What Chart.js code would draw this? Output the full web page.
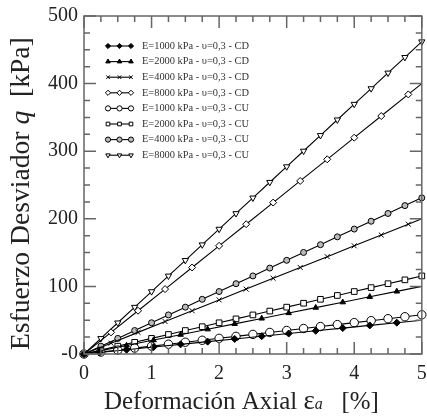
<!DOCTYPE html>
<html>
<head>
	<script src="https://cdn.jsdelivr.net/npm/chart.js@4.4.0/dist/chart.umd.min.js"></script>
	<style>
		body{margin:0;background:#fff;}
		#wrap{width:427px;height:416px;}
	</style>
</head>
<body>
	<div id="wrap"><canvas id="qChart" width="427" height="416"></canvas></div>
<script>
	// strain steps where markers were plotted
	var strainCU = [0,0.25,0.5,0.75,1,1.25,1.5,1.75,2,2.25,2.5,2.75,3,3.25,3.5,3.75,4,4.25,4.5,4.75,5];
	var strainCDa = [0,0.23,0.63,1.03,1.43,1.83,2.23,2.63,3.03,3.43,3.83,4.23,4.63,5];
	var strainCDb = [0,0.4,0.8,1.2,1.6,2,2.4,2.8,3.2,3.6,4,4.4,4.8,5];

	// deviator stress q [kPa]
	var qCD1000 = [0,2.3,6.3,10.3,14.3,18.3,22.3,26.3,30.3,34.3,38.3,42.3,46.3,50];
	var qCD2000 = [0,4.6,12.6,20.6,28.6,36.6,44.6,52.6,60.6,68.6,76.6,84.6,92.6,100];
	var qCD4000 = [0,16,32,48,64,80,96,112,128,144,160,176,192,200];
	var qCD8000 = [0,32,64,96,128,160,192,224,256,288,320,352,384,400];
	var qCU1000 = [0,2.9,5.8,8.7,11.6,14.5,17.4,20.3,23.2,26.1,29,31.9,34.8,37.7,40.6,43.5,46.4,49.3,52.2,55.1,58];
	var qCU2000 = [0,5.8,11.6,17.3,23.1,28.9,34.7,40.4,46.2,52,57.8,63.5,69.3,75.1,80.9,86.6,92.4,98.2,104,109.7,115.5];
	var qCU4000 = [0,11.6,23.1,34.7,46.2,57.8,69.3,80.9,92.4,104,115.5,127.1,138.6,150.2,161.7,173.3,184.8,196.4,207.9,219.5,231];
	var qCU8000 = [0,23.1,46.2,69.3,92.4,115.5,138.6,161.7,184.8,207.9,231,254.1,277.2,300.3,323.4,346.5,369.6,392.7,415.8,438.9,462];

	var seriesNames = [
		"E=1000 kPa - υ=0,3 - CD","E=2000 kPa - υ=0,3 - CD","E=4000 kPa - υ=0,3 - CD","E=8000 kPa - υ=0,3 - CD",
		"E=1000 kPa - υ=0,3 - CU","E=2000 kPa - υ=0,3 - CU","E=4000 kPa - υ=0,3 - CU","E=8000 kPa - υ=0,3 - CU"
	];
	var yTicks = [0,100,200,300,400,500];
	var xTicks = [0,1,2,3,4,5];

	function pts(xs,ys){
		var out = [];
		for(var i=0;i<xs.length;i++){ out.push({x:xs[i],y:ys[i]}); }
		return out;
	}
	function makeSet(i,xs,ys,style,radius,fill,rot,cdEnd){
		return {
			label:seriesNames[i],
			data:pts(xs,ys),
			showLine:true,
			borderColor:"#000",
			borderWidth:1.1,
			pointStyle:style,
			pointRotation:rot,
			pointBackgroundColor:fill,
			pointBorderColor:"#000",
			pointBorderWidth:1,
			pointRadius:function(c){ return (cdEnd && c.dataIndex==xs.length-1) ? 0 : radius; },
			clip:false
		};
	}

	var serif = "'Liberation Serif','Times New Roman',serif";

	// title made of parts: [text, italic, relative size]
	function drawParts(ctx,parts,size,target){
		var total = 0;
		parts.forEach(function(p){
			ctx.font = (p[1]?"italic ":"") + (size*p[2]) + "px " + serif;
			total += ctx.measureText(p[0]).width;
		});
		var k = target/total, x = 0;
		parts.forEach(function(p){
			ctx.font = (p[1]?"italic ":"") + (size*p[2]*k) + "px " + serif;
			ctx.fillText(p[0],x,0);
			x += ctx.measureText(p[0]).width;
		});
	}

	var framePlugin = {
		id:"frame",
		afterDraw:function(chart){
			var ctx = chart.ctx, a = chart.chartArea;
			var xs = chart.scales.x, ys = chart.scales.y;
			ctx.save();
			ctx.strokeStyle = "#666";
			ctx.lineWidth = 1.5;
			ctx.strokeRect(a.left,a.top,a.right-a.left,a.bottom-a.top);
			ctx.beginPath();
			for(var v=0;v<=5.0001;v+=0.25){
				var px = xs.getPixelForValue(v);
				var len = (Math.abs(v-Math.round(v))<0.001) ? 12 : 6;
				ctx.moveTo(px,a.bottom); ctx.lineTo(px,a.bottom-len);
				ctx.moveTo(px,a.top); ctx.lineTo(px,a.top+len);
			}
			for(var q=0;q<=500;q+=25){
				var py = ys.getPixelForValue(q);
				var l2 = (q%100==0) ? 12 : 6;
				ctx.moveTo(a.left,py); ctx.lineTo(a.left+l2,py);
				ctx.moveTo(a.right,py); ctx.lineTo(a.right-l2,py);
			}
			ctx.stroke();

			// axis titles
			ctx.fillStyle = "#222";
			ctx.textBaseline = "alphabetic";
			ctx.textAlign = "left";
			ctx.save();
			ctx.translate(104,409);
			drawParts(ctx,[["Deformación Axial ",false,1],["ε",false,1.08],["a",true,0.64],["   [%]",false,1]],25,275);
			ctx.restore();

			ctx.save();
			ctx.translate(29,350);
			ctx.rotate(-Math.PI/2);
			drawParts(ctx,[["Esfuerzo Desviador ",false,1],["q",true,1],["  [kPa]",false,1]],25,313);
			ctx.restore();

			// legend inside the plot
			ctx.font = "10.4px " + serif;
			ctx.textBaseline = "middle";
			chart.data.datasets.forEach(function(ds,i){
				var y = 46 + i*15.6;
				ctx.strokeStyle = "#000";
				ctx.lineWidth = 1.1;
				ctx.beginPath(); ctx.moveTo(108,y); ctx.lineTo(131,y); ctx.stroke();
				[108,119.5,131].forEach(function(px){
					ctx.fillStyle = ds.pointBackgroundColor;
					ctx.strokeStyle = "#000";
					ctx.lineWidth = 1;
					Chart.helpers.drawPoint(ctx,{pointStyle:ds.pointStyle,rotation:ds.pointRotation,radius:2.6,borderWidth:1},px,y);
				});
				ctx.fillStyle = "#333";
				ctx.fillText(ds.label,142,y);
			});
			ctx.restore();
		}
	};

	var target = document.getElementById("qChart").getContext("2d");
	var qChart = new Chart(target,{
		type:"scatter",
		data:{
			datasets:[
				makeSet(0,strainCDa,qCD1000,"rectRot",3.5,"#000",0,true),
				makeSet(1,strainCDa,qCD2000,"triangle",3.2,"#000",0,true),
				makeSet(2,strainCDb,qCD4000,"crossRot",3.5,"#000",0,true),
				makeSet(3,strainCDb,qCD8000,"rectRot",3.5,"#fff",0,true),
				makeSet(4,strainCU,qCU1000,"circle",4.2,"#fff",0,false),
				makeSet(5,strainCU,qCU2000,"rect",4,"#fff",0,false),
				makeSet(6,strainCU,qCU4000,"circle",3,"#bbb",0,false),
				makeSet(7,strainCU,qCU8000,"triangle",3.6,"#fff",180,false)
			]
		},
		options:{
			responsive:false,
			animation:false,
			layout:{padding:{top:16,right:3,left:0,bottom:0}},
			plugins:{legend:{display:false},tooltip:{enabled:false}},
			scales:{
				x:{
					type:"linear",min:0,max:5,
					grid:{display:false,drawTicks:false},
					border:{display:false},
					afterBuildTicks:function(s){ s.ticks = xTicks.map(function(v){return {value:v};}); },
					ticks:{padding:8,color:"#222",font:{family:serif,size:20},maxRotation:0},
					afterFit:function(s){ s.height = 62; s.paddingLeft = 0; s.paddingRight = 0; }
				},
				y:{
					type:"linear",min:0,max:500,
					grid:{display:false,drawTicks:false},
					border:{display:false},
					afterBuildTicks:function(s){ s.ticks = yTicks.map(function(v){return {value:v};}); },
					ticks:{padding:6,color:"#222",font:{family:serif,size:20},
						callback:function(v){ return v==0 ? "-0" : v; }},
					afterFit:function(s){ s.width = 84; s.paddingTop = 0; s.paddingBottom = 0; }
				}
			}
		},
		plugins:[framePlugin]
	});
</script>
</body>
</html>
